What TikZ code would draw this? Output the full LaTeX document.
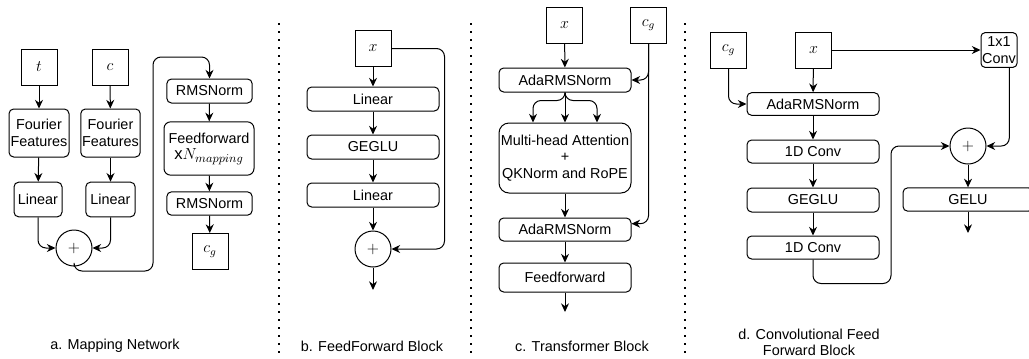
\documentclass[tikz,border=0pt]{standalone}
\usepackage{amsmath}
\usepackage{fontspec}
\setmainfont{Liberation Sans}
\usetikzlibrary{arrows.meta}

\begin{document}
\begin{tikzpicture}
	[x=0.75pt,y=-0.75pt,line width=0.75pt,font=\fontsize{10.8}{12.5}\selectfont,
	>={Stealth[length=6.5pt,width=6pt]},
	var/.style={draw,minimum width=27pt,minimum height=27pt,inner sep=0pt,font=\fontsize{12}{14}\selectfont},
	blk/.style={draw,rounded corners=3.5pt,align=center,inner sep=1pt},
	wide/.style={blk,minimum width=99pt,minimum height=18pt},
	sum/.style={draw,circle,minimum size=27pt,inner sep=0pt,font=\fontsize{12}{14}\selectfont},
	link/.style={->,rounded corners=6pt},
	divider/.style={line width=1.5pt,dash pattern=on 1.5pt off 4.5pt}]
	\useasboundingbox (0,0) rectangle (1029,358);
	
	\node[var] (a1) at (39,67) {$t$};
	\node[var] (a2) at (110,67) {$c$};
	\node[blk,minimum width=45pt,minimum height=36pt] (a3) at (39,133) {Fourier\\Features};
	\node[blk,minimum width=44pt,minimum height=36pt] (a4) at (110.5,133) {Fourier\\Features};
	\node[blk,minimum width=36pt,minimum height=26pt] (a5) at (38,199.5) {Linear};
	\node[blk,minimum width=37pt,minimum height=26pt] (a6) at (110.5,199.5) {Linear};
	\node[sum] (a7) at (74,248) {$+$};
	\node[blk,minimum width=64pt,minimum height=18pt] (a8) at (209.5,91) {RMSNorm};
	\node[blk,minimum width=67.5pt,minimum height=40pt,rounded corners=5pt] (a9) at (209,148.5) {Feedforward\\{\fontsize{12.5}{14}\selectfont$\mathrm{x}N_{mapping}$}};
	\node[blk,minimum width=64pt,minimum height=17.5pt] (a10) at (209.5,203.5) {RMSNorm};
	\node[var] (a11) at (210,251.5) {$c_g$};
	
	\foreach \a/\b in {a1/a3,a2/a4,a3/a5,a4/a6,a8/a9,a9/a10,a10/a11}
	\draw[->] (\a) -- (\b);
	\draw[link] (a5) |- (a7);
	\draw[link] (a6) |- (a7);
	\draw[link] (a7.south) -- ++(0,4.5) -| (153,57) -| (a8);
	
	\node[var] (b1) at (373,48.5) {$x$};
	\node[wide] (b2) at (373,99) {Linear};
	\node[wide] (b3) at (373,147) {GEGLU};
	\node[wide] (b4) at (373,195) {Linear};
	\node[sum] (b5) at (373,249) {$+$};
	\coordinate (b6) at (373,290);
	
	\foreach \a/\b in {b1/b2,b2/b3,b3/b4,b4/b5,b5/b6}
	\draw[->] (\a) -- (\b);
	\draw[link] (b1.east) -- ++(53,0) |- (b5);
	
	\node[var] (c1) at (564.5,25) {$x$};
	\node[var] (c2) at (648.5,25) {$c_g$};
	\node[wide] (c3) at (565,80) {AdaRMSNorm};
	\node[wide,minimum height=52.5pt,rounded corners=7.5pt] (c4) at (565,158) {Multi-head Attention\\+\\QKNorm and RoPE};
	\node[wide,minimum height=17.25pt] (c5) at (565,229.5) {AdaRMSNorm};
	\node[wide,minimum height=21.75pt] (c6) at (565,277.5) {Feedforward};
	\coordinate (c7) at (565,312);
	
	\foreach \a/\b in {c1/c3,c3/c4,c4/c5,c5/c6,c6/c7}
	\draw[->] (\a) -- (\b);
	\foreach \s in {-24pt,24pt}
	\draw[link] (c3.south) -- ++(0,8) -| ([xshift=\s]c4.north);
	\draw[link] (c2) |- (c3);
	\draw[link] (c2) |- (c5.5);
	
	\node[var] (d1) at (728.5,50) {$c_g$};
	\node[var] (d2) at (813.5,50) {$x$};
	\node[blk,minimum width=27pt,minimum height=26pt,inner sep=0pt,rounded corners=3pt] (d3) at (999,50) {1x1\\Conv};
	\node[wide,minimum height=17pt] (d4) at (813,104) {AdaRMSNorm};
	\node[wide,minimum height=17.25pt] (d5) at (813,151.5) {1D Conv};
	\node[wide] (d6) at (813,200) {GEGLU};
	\node[wide,minimum height=17.25pt] (d7) at (813,247.5) {1D Conv};
	\node[sum] (d8) at (968,146) {$+$};
	\node[blk,minimum width=97.5pt,minimum height=17.5pt] (d9) at (968,199.5) {GELU};
	\coordinate (d10) at (968,233);
	
	\foreach \a/\b in {d2/d3,d2/d4,d4/d5,d5/d6,d6/d7,d8/d9,d9/d10}
	\draw[->] (\a) -- (\b);
	\draw[link] (d1) |- (d4);
	\draw[link] (d3.-60) |- (d8);
	\draw[link] (d7.south) -- ++(0,24) -- ++(78,0) |- (d8);
	
	\foreach \x in {279,471,685}
	\draw[divider] (\x,23) -- (\x,358);
	
	\node (ta) at (115,346) {a. Mapping Network};
	\node (tb) at (372,346) {b. FeedForward Block};
	\node (tc) at (582,346) {c. Transformer Block};
	\node[align=center,font=\fontsize{10.8}{12}\selectfont] (td) at (809,342.5) {d. Convolutional Feed\\Forward Block};
\end{tikzpicture}
\end{document}
